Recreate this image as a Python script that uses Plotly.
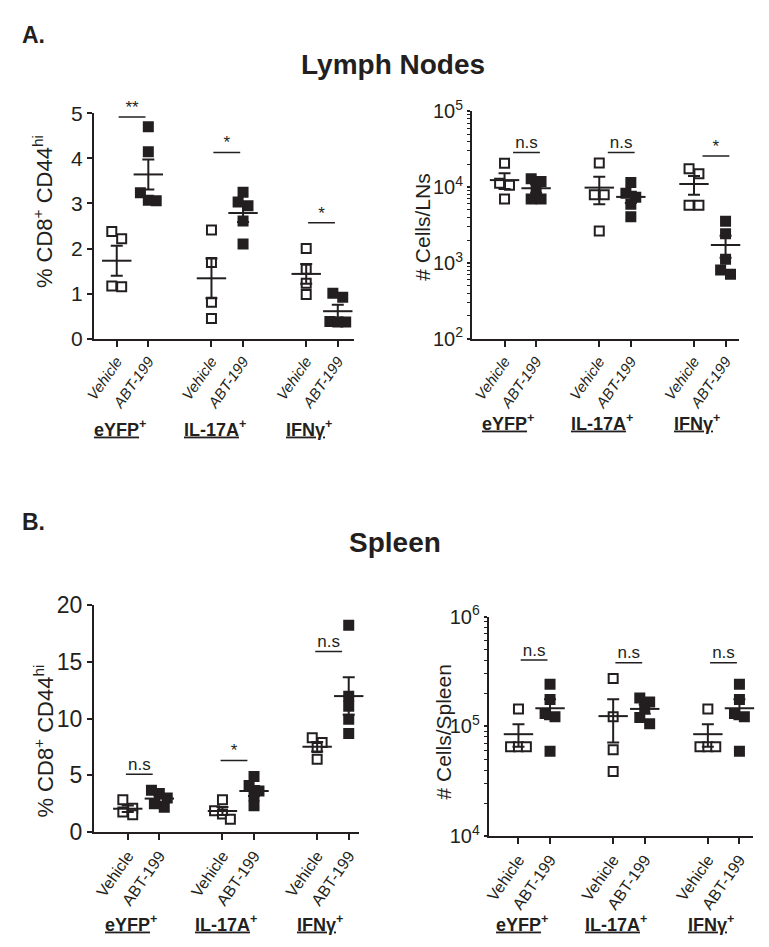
import numpy as np
import plotly.graph_objects as go

W, H = 769, 947

treatments = ["Vehicle", "ABT-199"]
populations = ["eYFP", "IL-17A", "IFNγ"]

# ---- Lymph nodes: % CD8+ CD44hi ----
ln_pct_vehicle = [[2.38, 2.22, 1.15, 1.17], [2.41, 1.69, 0.81, 0.45], [2.0, 1.54, 1.23, 0.98]]
ln_pct_abt = [[4.7, 4.15, 3.24, 3.06, 3.07], [3.25, 2.95, 3.03, 2.61, 2.1], [1.01, 0.92, 0.38, 0.37, 0.37]]
ln_pct_sig = ["**", "*", "*"]
ln_pct_sig_y = [4.92, 4.13, 2.57]

# ---- Lymph nodes: # cells / LNs ----
ln_cnt_vehicle = [[20700, 11250, 10600, 7000], [20900, 7950, 7950, 2630], [17500, 15000, 5750, 5750]]
ln_cnt_abt = [[12900, 11900, 9570, 7000, 7000], [11500, 8300, 7360, 5940, 4080], [3560, 2430, 1115, 805, 708]]
ln_cnt_sig = ["n.s", "n.s", "*"]
ln_cnt_sig_y = [28600, 28600, 25700]

# ---- Spleen: % CD8+ CD44hi ----
sp_pct_vehicle = [[2.85, 2.11, 1.77, 1.54], [2.85, 1.88, 1.6, 1.14], [8.32, 7.89, 7.46, 6.41]]
sp_pct_abt = [[3.7, 3.4, 3.0, 2.5, 2.2], [4.9, 4.1, 3.62, 3.19, 2.33], [18.2, 11.97, 11.08, 9.94, 8.69]]
sp_pct_sig = ["n.s", "*", "n.s"]
sp_pct_sig_y = [5.1, 6.3, 15.9]

# ---- Spleen: # cells / spleen ----
sp_cnt_vehicle = [[143600, 65200, 65200, 65200], [273000, 122500, 61300, 38800], [143600, 65200, 65200, 65200]]
sp_cnt_abt = [[241700, 175800, 131200, 122500, 59300], [180700, 166500, 147200, 120200, 105700], [241700, 175800, 131200, 122500, 59300]]
sp_cnt_sig = ["n.s", "n.s", "n.s"]
sp_cnt_sig_y = [403000, 380000, 380000]

FONT = "Arial, Liberation Sans, sans-serif"
INK = "#231f20"

panels = [
    dict(vid="", veh=ln_pct_vehicle, abt=ln_pct_abt, sig=ln_pct_sig, sig_y=ln_pct_sig_y,
         px=(77, 340), py=(94, 326), xr=(-0.72, 7.5), log=False, yr=(0, 5),
         yticks=[0, 1, 2, 3, 4, 5], ytext=["0", "1", "2", "3", "4", "5"], yfs=21, yticklen=5,
         italic=True, xfs=15, bar_off=0.06, glabel_y=418,
         title="% CD8<sup>+</sup> CD44<sup>hi</sup>", title_x=26, title_y=195, title_fs=22),
    dict(vid="2", veh=ln_cnt_vehicle, abt=ln_cnt_abt, sig=ln_cnt_sig, sig_y=ln_cnt_sig_y,
         px=(460, 730), py=(92, 326), xr=(-1.03, 7.41), log=True, yr=(2, 5),
         yticks=[1e2, 1e3, 1e4, 1e5], ytext=["10<sup>2</sup>", "10<sup>3</sup>", "10<sup>4</sup>", "10<sup>5</sup>"],
         yfs=20, yticklen=3,
         italic=True, xfs=15, bar_off=0.27, glabel_y=412,
         title="# Cells/LNs", title_x=410, title_y=211, title_fs=21),
    dict(vid="3", veh=sp_pct_vehicle, abt=sp_pct_abt, sig=sp_pct_sig, sig_y=sp_pct_sig_y,
         px=(77, 345), py=(600, 834), xr=(-1.07, 7.31), log=False, yr=(0, 20),
         yticks=[0, 5, 10, 15, 20], ytext=["0", "5", "10", "15", "20"], yfs=23, yticklen=5,
         italic=False, xfs=16, bar_off=-0.06, glabel_y=928,
         title="% CD8<sup>+</sup> CD44<sup>hi</sup>", title_x=26, title_y=740, title_fs=22),
    dict(vid="4", veh=sp_cnt_vehicle, abt=sp_cnt_abt, sig=sp_cnt_sig, sig_y=sp_cnt_sig_y,
         px=(477, 745), py=(612, 838), xr=(-0.94, 7.44), log=True, yr=(4, 6),
         yticks=[1e4, 1e5, 1e6], ytext=["10<sup>4</sup>", "10<sup>5</sup>", "10<sup>6</sup>"],
         yfs=20, yticklen=3,
         italic=False, xfs=16, bar_off=0.07, glabel_y=928,
         title="# Cells/Spleen", title_x=431, title_y=731, title_fs=21),
]


def dodge(vals, log, yr, h_px, ppu, thresh=9.0):
    v = np.array(vals, float)
    f = np.log10(v) if log else v
    ypx = (f - yr[0]) / (yr[1] - yr[0]) * h_px
    order = np.argsort(-ypx, kind="stable")
    clusters = []
    for i in order:
        if clusters and abs(ypx[clusters[-1][0]] - ypx[i]) < thresh:
            clusters[-1].append(i)
        else:
            clusters.append([i])
    offs = np.zeros(len(v))
    for c in clusters:
        n = len(c)
        step = 10.0 if n == 2 else 8.0
        for k, i in enumerate(c):
            offs[i] = (k - (n - 1) / 2) * step / ppu
    return offs


fig = go.Figure()
layout = dict(width=W, height=H, margin=dict(l=0, r=0, t=0, b=0), autosize=False,
              paper_bgcolor="white", plot_bgcolor="white", showlegend=False,
              font=dict(family=FONT, color=INK))
annotations = []

for p in panels:
    xa, ya = "x" + p["vid"], "y" + p["vid"]
    h_px = p["py"][1] - p["py"][0]
    ppu = (p["px"][1] - p["px"][0]) / (p["xr"][1] - p["xr"][0])
    tickpos, ticktext = [], []
    for g in range(3):
        for t, (vals, filled) in enumerate([(p["veh"][g], False), (p["abt"][g], True)]):
            pos = 3 * g + t
            tickpos.append(pos)
            ticktext.append(f"<i>{treatments[t]}</i>" if p["italic"] else treatments[t])
            offs = dodge(vals, p["log"], p["yr"], h_px, ppu)
            fig.add_trace(go.Scatter(
                x=pos + offs, y=vals, mode="markers", xaxis=xa, yaxis=ya, cliponaxis=False,
                marker=dict(symbol="square", size=9, color=INK if filled else "white",
                            line=dict(color=INK, width=2)), hoverinfo="skip"))
        for t, vals in enumerate([p["veh"][g], p["abt"][g]]):
            pos = 3 * g + t
            arr = np.array(vals, float)
            mean = arr.mean()
            sem = arr.std(ddof=1) / np.sqrt(len(arr))
            fig.add_trace(go.Scatter(
                x=[pos], y=[mean], mode="markers", xaxis=xa, yaxis=ya, cliponaxis=False,
                marker=dict(symbol="line-ew", size=21, line=dict(color=INK, width=2)),
                error_y=dict(type="data", array=[sem], symmetric=True, width=6, thickness=2, color=INK),
                hoverinfo="skip"))
        # significance bar
        x0 = 3 * g + p["bar_off"]
        x1 = x0 + 0.85
        yb = p["sig_y"][g]
        fig.add_trace(go.Scatter(x=[x0, x1], y=[yb, yb], mode="lines", xaxis=xa, yaxis=ya,
                                 cliponaxis=False, line=dict(color=INK, width=1.5), hoverinfo="skip"))
        fig.add_trace(go.Scatter(x=[(x0 + x1) / 2], y=[yb], mode="text", text=[p["sig"][g]],
                                 textposition="top center", xaxis=xa, yaxis=ya, cliponaxis=False,
                                 textfont=dict(size=17, color=INK, family=FONT), hoverinfo="skip"))
        # group label
        annotations.append(dict(xref=xa, yref="paper", x=3 * g + 0.1, y=1 - p["glabel_y"] / H,
                                text=f"<b><u>{populations[g]}</u><sup>+</sup></b>", showarrow=False,
                                xanchor="center", yanchor="middle",
                                font=dict(size=18, family=FONT, color=INK)))

    axis_common = dict(showline=True, linecolor=INK, linewidth=2, ticks="outside",
                       tickcolor=INK, tickwidth=2, showgrid=False, zeroline=False, fixedrange=True)
    xdom = [p["px"][0] / W, p["px"][1] / W]
    ydom = [1 - p["py"][1] / H, 1 - p["py"][0] / H]
    layout["xaxis" + p["vid"]] = dict(axis_common, domain=xdom, range=list(p["xr"]), anchor=ya,
                                      tickmode="array", tickvals=tickpos, ticktext=ticktext,
                                      tickangle=-55, ticklen=6,
                                      tickfont=dict(size=p["xfs"], family=FONT, color=INK))
    yax = dict(axis_common, domain=ydom, range=list(p["yr"]), anchor=xa, ticklen=p["yticklen"],
               tickmode="array", tickvals=p["yticks"], ticktext=p["ytext"],
               tickfont=dict(size=p["yfs"], family=FONT, color=INK))
    if p["log"]:
        yax["type"] = "log"
        minor_vals = [k * 10 ** d for d in range(int(p["yr"][0]), int(p["yr"][1])) for k in range(2, 10)]
        yax["minor"] = dict(ticks="outside", ticklen=3, tickwidth=1, tickcolor=INK,
                            tickmode="array", tickvals=minor_vals, showgrid=False)
    layout["yaxis" + p["vid"]] = yax
    annotations.append(dict(xref="paper", yref="paper", x=p["title_x"] / W, y=1 - p["title_y"] / H,
                            text=p["title"], textangle=-90, showarrow=False,
                            xanchor="center", yanchor="middle",
                            font=dict(size=p["title_fs"], family=FONT, color=INK)))

# Panel letters and section titles
annotations += [
    dict(xref="paper", yref="paper", x=2 / W, y=1 - 13 / H, text="<b>A.</b>", showarrow=False,
         xanchor="left", yanchor="middle", font=dict(size=23, family=FONT, color=INK)),
    dict(xref="paper", yref="paper", x=380 / W, y=1 - 44 / H, text="<b>Lymph Nodes</b>", showarrow=False,
         xanchor="center", yanchor="middle", font=dict(size=28, family=FONT, color=INK)),
    dict(xref="paper", yref="paper", x=2 / W, y=1 - 515 / H, text="<b>B.</b>", showarrow=False,
         xanchor="left", yanchor="middle", font=dict(size=23, family=FONT, color=INK)),
    dict(xref="paper", yref="paper", x=382 / W, y=1 - 536 / H, text="<b>Spleen</b>", showarrow=False,
         xanchor="center", yanchor="middle", font=dict(size=28, family=FONT, color=INK)),
]
layout["annotations"] = annotations
fig.update_layout(**layout)
fig.write_html("out.html")
